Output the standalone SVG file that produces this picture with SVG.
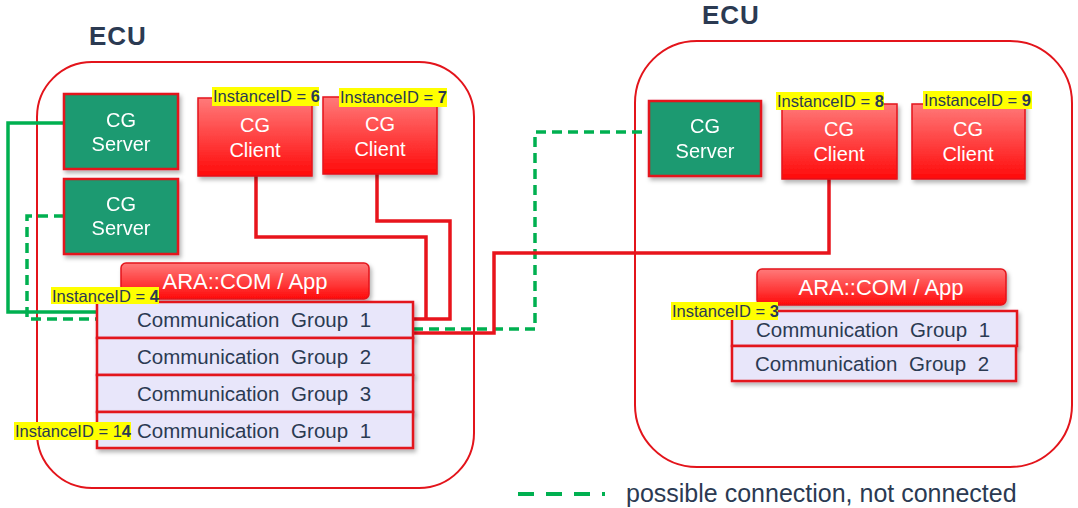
<svg xmlns="http://www.w3.org/2000/svg" width="1078" height="508" viewBox="0 0 1078 508">
<defs>
<linearGradient id="redGrad" x1="0" y1="0" x2="0" y2="1">
<stop offset="0" stop-color="#ff7a7a"/>
<stop offset="1" stop-color="#ff0a0a"/>
</linearGradient>
<filter id="sh" x="-10%" y="-10%" width="130%" height="140%">
<feDropShadow dx="2" dy="3" stdDeviation="2" flood-color="#000" flood-opacity="0.3"/>
</filter>
</defs>
<style>
.ecu{fill:none;stroke:#e3141b;stroke-width:2}
.ecut{font-family:"Liberation Sans",Arial,sans-serif;font-weight:bold;font-size:26px;fill:#2b3a52;letter-spacing:1px}
.srv{fill:#1a9a71;stroke:#e3141b;stroke-width:2.5}
.cli{fill:url(#redGrad);stroke:#e3141b;stroke-width:1.5}
.ara{fill:url(#redGrad);stroke:#e3141b;stroke-width:1.5}
.cg{fill:#e8e6fa;stroke:#e3141b;stroke-width:2.5}
.wt{font-family:"Liberation Sans",Arial,sans-serif;font-size:20px;fill:#fff;text-anchor:middle}
.at{font-family:"Liberation Sans",Arial,sans-serif;font-size:22px;fill:#fff;text-anchor:middle}
.gt{font-family:"Liberation Sans",Arial,sans-serif;font-size:20.5px;fill:#2b3a52;word-spacing:6px}
.lb{fill:#ffff00}
.lt{font-family:"Liberation Sans",Arial,sans-serif;font-size:16.5px;fill:#2b3a52}
.lt tspan{font-weight:bold}
.red{fill:none;stroke:#e8141c;stroke-width:3.5}
.grn{fill:none;stroke:#00b050;stroke-width:3.5}
.gd{fill:none;stroke:#00b050;stroke-width:3.5;stroke-dasharray:10 6}
.gl{fill:none;stroke:#00b050;stroke-width:4;stroke-dasharray:16 12}
.leg{font-family:"Liberation Sans",Arial,sans-serif;font-size:25px;fill:#2b3a52}
</style>

<g id="ecu-left">
<rect class="ecu" x="37" y="62" width="437" height="426" rx="55" ry="55"/>
<text class="ecut" x="89" y="45">ECU</text>
</g>
<g id="ecu-right">
<rect class="ecu" x="635" y="41" width="437" height="426" rx="62" ry="62"/>
<text class="ecut" x="702" y="24">ECU</text>
</g>

<g id="connectors">
<path class="grn" d="M64,123 H8 V312 H97"/>
<path class="gd" d="M64,216 H27 V319 H97"/>
<path class="red" d="M256,176 V237 H426 V319"/>
<path class="red" d="M377,174 V221 H450 V319 H413"/>
<path class="gd" d="M413,329 H535 V132 H649"/>
<path class="red" d="M413,333 H494 V253 H829 V179"/>
</g>

<g id="server-l1" filter="url(#sh)">
<rect class="srv" x="64" y="94" width="114" height="75"/>
<text class="wt" x="121" y="127">CG</text>
<text class="wt" x="121" y="151">Server</text>
</g>
<g id="server-l2" filter="url(#sh)">
<rect class="srv" x="64" y="179" width="114" height="75"/>
<text class="wt" x="121" y="211">CG</text>
<text class="wt" x="121" y="235">Server</text>
</g>

<g id="client-6">
<rect class="cli" x="198" y="98" width="114" height="78" filter="url(#sh)"/>
<text class="wt" x="255" y="132">CG</text>
<text class="wt" x="255" y="157">Client</text>
<rect class="lb" x="212" y="87" width="107" height="19"/>
<text class="lt" x="213" y="102">InstanceID = <tspan>6</tspan></text>
</g>
<g id="client-7">
<rect class="cli" x="323" y="97" width="114" height="77" filter="url(#sh)"/>
<text class="wt" x="380" y="131">CG</text>
<text class="wt" x="380" y="156">Client</text>
<rect class="lb" x="339" y="88" width="108" height="19"/>
<text class="lt" x="340" y="103">InstanceID = <tspan>7</tspan></text>
</g>

<g id="ara-left">
<rect class="ara" x="121" y="263" width="248" height="36" rx="5" ry="5" filter="url(#sh)"/>
<text class="at" x="245" y="289">ARA::COM / App</text>
</g>

<g id="cg-left-1">
<rect class="cg" x="97" y="302" width="316" height="36" filter="url(#sh)"/>
<text class="gt" x="137" y="327">Communication Group 1</text>
<rect class="lb" x="51" y="287" width="108" height="17"/>
<text class="lt" x="52" y="302">InstanceID = <tspan>4</tspan></text>
</g>
<g id="cg-left-2">
<rect class="cg" x="97" y="338" width="316" height="37" filter="url(#sh)"/>
<text class="gt" x="137" y="364">Communication Group 2</text>
</g>
<g id="cg-left-3">
<rect class="cg" x="97" y="375" width="316" height="37" filter="url(#sh)"/>
<text class="gt" x="137" y="401">Communication Group 3</text>
</g>
<g id="cg-left-4">
<rect class="cg" x="97" y="412" width="316" height="36" filter="url(#sh)"/>
<text class="gt" x="137" y="438">Communication Group 1</text>
<rect class="lb" x="14" y="422" width="117" height="18"/>
<text class="lt" x="15" y="437">InstanceID = 1<tspan>4</tspan></text>
</g>

<g id="server-r" filter="url(#sh)">
<rect class="srv" x="649" y="101" width="112" height="75"/>
<text class="wt" x="705" y="133">CG</text>
<text class="wt" x="705" y="158">Server</text>
</g>
<g id="client-8">
<rect class="cli" x="782" y="104" width="115" height="75" filter="url(#sh)"/>
<text class="wt" x="839" y="136">CG</text>
<text class="wt" x="839" y="161">Client</text>
<rect class="lb" x="776" y="92" width="108" height="18"/>
<text class="lt" x="777" y="107">InstanceID = <tspan>8</tspan></text>
</g>
<g id="client-9">
<rect class="cli" x="912" y="104" width="113" height="75" filter="url(#sh)"/>
<text class="wt" x="968" y="136">CG</text>
<text class="wt" x="968" y="161">Client</text>
<rect class="lb" x="923" y="91" width="109" height="18"/>
<text class="lt" x="924" y="106">InstanceID = <tspan>9</tspan></text>
</g>

<g id="ara-right">
<rect class="ara" x="757" y="269" width="249" height="36" rx="5" ry="5" filter="url(#sh)"/>
<text class="at" x="881" y="295">ARA::COM / App</text>
</g>
<g id="cg-right-1">
<rect class="cg" x="732" y="311" width="285" height="35" filter="url(#sh)"/>
<text class="gt" x="756" y="337">Communication Group 1</text>
<rect class="lb" x="671" y="302" width="107" height="18"/>
<text class="lt" x="672" y="317">InstanceID = <tspan>3</tspan></text>
</g>
<g id="cg-right-2">
<rect class="cg" x="732" y="346" width="284" height="35" filter="url(#sh)"/>
<text class="gt" x="755" y="371">Communication Group 2</text>
</g>

<g id="legend">
<path class="gl" d="M518,494 H605"/>
<text class="leg" x="626" y="502">possible connection, not connected</text>
</g>
</svg>
